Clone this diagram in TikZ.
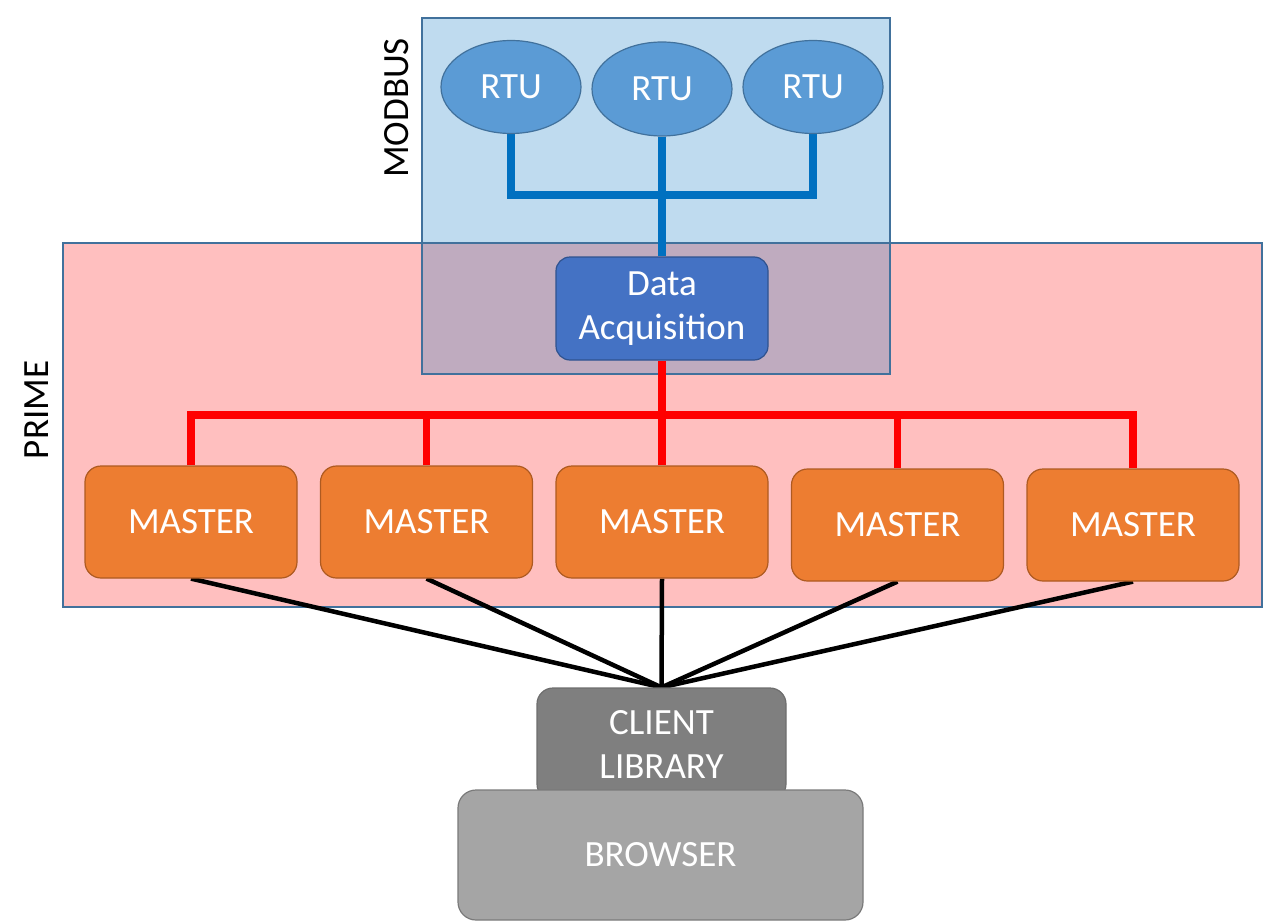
\documentclass[tikz,border=0pt]{standalone}
\usepackage{fontspec}
\setmainfont{Carlito}
\usetikzlibrary{shapes.geometric}
\pgfdeclarelayer{zones}
\pgfdeclarelayer{wires}
\pgfsetlayers{zones,wires,main}
\definecolor{bordblue}{HTML}{41719C}
\definecolor{rtufill}{HTML}{5B9BD5}
\definecolor{dafill}{HTML}{4472C4}
\definecolor{dabord}{HTML}{2F528F}
\definecolor{mfill}{HTML}{ED7D31}
\definecolor{mbord}{HTML}{AE5A21}
\definecolor{clfill}{HTML}{7F7F7F}
\definecolor{clbord}{HTML}{6E6E6E}
\definecolor{brfill}{HTML}{A5A5A5}
\definecolor{brbord}{HTML}{7A7A7A}
\definecolor{busblue}{HTML}{0070C0}
\begin{document}
\begin{tikzpicture}[x=1pt,y=-1pt,
  lbl/.style={font=\fontsize{37}{44}\selectfont, text=white, inner sep=0pt, align=center},
  rtu/.style={lbl, ellipse, draw=bordblue, line width=1.2pt, fill=rtufill, minimum width=140pt, minimum height=93pt},
  dabox/.style={lbl, draw=dabord, line width=1.2pt, fill=dafill, rounded corners=14pt, minimum width=212pt, minimum height=103pt},
  master/.style={lbl, draw=mbord, line width=1.2pt, fill=mfill, rounded corners=16pt, minimum width=212pt, minimum height=112pt},
  clbox/.style={lbl, draw=clbord, line width=1.2pt, fill=clfill, rounded corners=16pt, minimum width=249pt, minimum height=112pt},
  brbox/.style={lbl, draw=brbord, line width=1.2pt, fill=brfill, rounded corners=18pt, minimum width=405pt, minimum height=130pt},
  side/.style={font=\fontsize{37}{44}\selectfont, text=black, inner sep=0pt, rotate=90},
  bluebus/.style={draw=busblue, line width=8.5pt},
  redbus/.style={draw=red, line width=7.5pt},
  blackline/.style={draw=black, line width=4.5pt}
]
\useasboundingbox (0,0) rectangle (1263,923);
% zones
\begin{pgfonlayer}{zones}
\fill[red, fill opacity=0.25] (63,243) rectangle (1262,607);
\fill[busblue, fill opacity=0.25] (422,18) rectangle (890,374);
\draw[bordblue, line width=1.5pt] (63,243) rectangle (1262,607);
\draw[bordblue, line width=1.5pt] (422,18) rectangle (890,374);
\end{pgfonlayer}
\node[side] (modbus) at (397,108) {MODBUS};
\node[side] (prime) at (37,410) {PRIME};
% nodes
\node[rtu] (r1) at (511,87) {RTU};
\node[rtu, minimum height=94pt] (r2) at (662,89) {RTU};
\node[rtu] (r3) at (813,87) {RTU};
\node[dabox] (da) at (662,308.5) {\raisebox{-3pt}{Data}\\\raisebox{-3pt}{Acquisition}};
\node[master] (m1) at (191,522) {MASTER};
\node[master] (m2) at (426.5,522) {MASTER};
\node[master] (m3) at (662,522) {MASTER};
\node[master] (m4) at (897.5,525) {MASTER};
\node[master] (m5) at (1133,525) {MASTER};
\node[clbox] (cl) at (661.5,744) {CLIENT\\LIBRARY};
\node[brbox] (br) at (660.5,855) {BROWSER};
% junctions
\coordinate (jb) at (663,195);
\coordinate (jr) at (662,415);
% connectors behind nodes
\begin{pgfonlayer}{wires}
\draw[bluebus] (r1.south) |- (jb) -| (r3.south);
\draw[bluebus] (r2.south) -- (da.north);
\draw[redbus] (da.south) -- (jr);
\draw[redbus] (m1.north) |- (jr) -| (m5.north);
\draw[redbus] (m2.north) -- (m2.north |- jr);
\draw[redbus] (m3.north) -- (jr);
\draw[redbus] (m4.north) -- (m4.north |- jr);
\draw[blackline] (m1.south) -- (cl.north);
\draw[blackline] (m2.south) -- (cl.north);
\draw[blackline] (m3.south) -- (cl.north);
\draw[blackline] (m4.south) -- (cl.north);
\draw[blackline] (m5.south) -- (cl.north);
\end{pgfonlayer}
\end{tikzpicture}
\end{document}
